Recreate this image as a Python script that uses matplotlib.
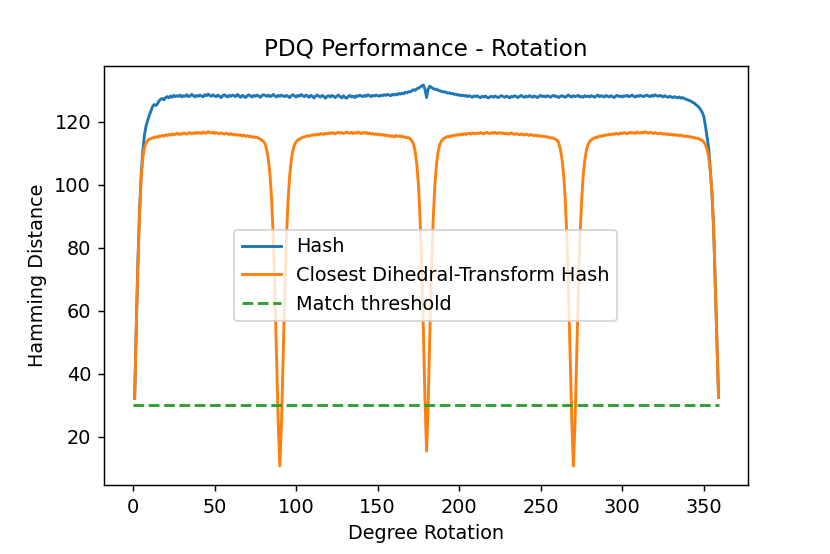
import matplotlib
matplotlib.use("Agg")
import matplotlib.pyplot as plt
import numpy as np

plt.rcParams["font.size"] = 10.7
plt.rcParams["lines.linewidth"] = 1.6

degrees = list(range(1, 360))

hash_dist = [
    32.2, 55.0, 75.5, 91.5, 103.0, 110.5, 115.8, 118.6, 120.4, 122.0,
    123.4, 124.8, 125.4, 125.1, 125.6, 126.6, 127.1, 127.3, 126.9, 127.6,
    127.9, 127.5, 128.1, 127.7, 128.3, 127.9, 128.2, 128.0, 128.4, 127.8,
    128.2, 128.0, 128.5, 127.9, 128.1, 128.6, 128.2, 127.8, 128.3, 128.0,
    128.4, 128.1, 127.9, 128.5, 128.2, 128.7, 128.3, 128.0, 128.5, 128.1,
    127.9, 128.4, 128.0, 127.6, 128.2, 128.5, 128.1, 127.8, 128.3, 128.0,
    128.4, 128.2, 127.9, 128.6, 128.1, 127.7, 128.3, 128.0, 127.6, 128.2,
    128.5, 128.1, 127.8, 128.3, 128.0, 128.4, 128.1, 127.7, 128.2, 128.5,
    128.3, 128.0, 128.4, 127.9, 128.2, 128.6, 128.1, 127.8, 128.3, 128.0,
    128.4, 128.1, 127.9, 128.3, 128.0, 127.6, 128.2, 128.5, 128.1, 127.8,
    128.3, 128.0, 128.6, 128.2, 127.9, 128.4, 128.1, 127.7, 128.3, 128.0,
    127.5, 128.1, 128.4, 128.0, 127.8, 128.3, 127.9, 127.4, 128.0, 128.2,
    127.8, 128.3, 128.0, 127.6, 128.1, 128.4, 127.9, 127.5, 128.2, 127.7,
    127.4, 128.0, 128.3, 127.8, 128.1, 127.6, 128.2, 128.0, 128.4, 128.1,
    127.9, 128.3, 128.0, 128.5, 128.2, 127.9, 128.3, 128.1, 128.4, 128.2,
    128.0, 128.4, 128.2, 128.5, 128.3, 128.6, 128.4, 128.2, 128.6, 128.4,
    128.7, 128.5, 128.9, 128.7, 129.0, 128.8, 129.3, 129.1, 129.5, 129.4,
    129.8, 130.1, 129.9, 130.4, 130.6, 130.9, 131.3, 131.6, 130.2, 127.6,
    130.4, 131.2, 130.8, 130.5, 130.2, 130.3, 129.9, 129.8, 129.6, 129.4,
    129.5, 129.2, 129.0, 129.1, 128.8, 128.9, 128.6, 128.7, 128.4, 128.5,
    128.2, 128.4, 128.1, 128.3, 127.9, 128.2, 128.0, 127.7, 128.1, 127.9,
    128.2, 127.8, 127.6, 128.0, 127.8, 128.1, 127.7, 127.5, 127.9, 128.0,
    127.7, 128.1, 127.8, 127.6, 128.0, 128.2, 127.9, 127.7, 128.1, 127.8,
    127.5, 128.0, 127.8, 128.2, 127.9, 127.6, 128.0, 128.3, 127.9, 127.7,
    128.1, 127.8, 128.2, 128.0, 127.7, 128.1, 127.9, 127.6, 128.0, 128.3,
    127.9, 128.1, 127.8, 128.2, 128.0, 127.7, 128.1, 128.3, 127.9, 128.0,
    127.6, 128.0, 128.2, 127.9, 127.7, 128.1, 128.4, 128.0, 127.8, 128.2,
    127.9, 128.1, 128.3, 127.8, 128.0, 127.7, 128.2, 127.9, 128.1, 127.8,
    128.2, 128.0, 127.7, 128.1, 128.4, 127.9, 128.2, 128.0, 127.8, 128.3,
    128.0, 127.8, 128.2, 127.9, 127.6, 128.1, 128.3, 127.9, 128.1, 127.8,
    128.2, 128.0, 128.3, 127.9, 128.1, 128.4, 128.0, 127.8, 128.2, 128.0,
    128.3, 128.1, 127.9, 128.2, 128.4, 128.1, 127.9, 128.3, 128.0, 128.5,
    128.2, 128.0, 128.3, 128.1, 127.8, 128.2, 127.9, 127.7, 128.0, 127.8,
    127.6, 127.9, 127.7, 127.5, 127.8, 127.4, 127.6, 127.3, 127.1, 126.9,
    126.7, 126.5, 126.1, 125.9, 125.4, 125.0, 124.5, 123.8, 122.9, 121.5,
    118.5, 115.0, 111.4, 104.0, 97.0, 86.0, 68.0, 50.0, 32.6,
]

dihedral_dist = [
    32.2, 55.0, 75.0, 91.0, 102.0, 108.5, 111.8, 113.2, 114.0, 114.4,
    114.6, 114.9, 114.8, 115.2, 115.0, 115.4, 115.3, 115.6, 115.4, 115.8,
    115.6, 115.9, 115.7, 116.1, 115.8, 116.0, 116.3, 115.9, 116.1, 116.0,
    116.4, 116.2, 116.0, 116.3, 116.5, 116.1, 116.4, 116.2, 116.6, 116.3,
    116.5, 116.2, 116.7, 116.4, 116.3, 116.8, 116.5, 116.4, 116.6, 116.2,
    116.5, 116.3, 116.1, 116.4, 116.2, 116.0, 116.3, 116.1, 115.9, 116.2,
    115.8, 116.0, 115.7, 115.9, 115.6, 115.8, 115.4, 115.7, 115.3, 115.5,
    115.2, 115.4, 115.0, 115.2, 114.9, 115.0, 114.7, 114.5, 114.0, 113.7,
    112.9, 111.0, 108.0, 103.0, 95.0, 83.0, 66.0, 46.0, 25.0, 10.8,
    24.0, 45.0, 65.0, 82.0, 94.5, 102.5, 107.8, 110.8, 112.6, 113.6,
    114.1, 114.5, 114.7, 115.0, 115.1, 115.3, 115.5, 115.4, 115.7, 115.6,
    115.9, 115.7, 116.0, 115.8, 116.2, 116.0, 115.9, 116.3, 116.1, 116.4,
    116.2, 116.5, 116.3, 116.1, 116.4, 116.6, 116.3, 116.5, 116.2, 116.4,
    116.7, 116.4, 116.3, 116.6, 116.2, 116.5, 116.3, 116.7, 116.4, 116.2,
    116.5, 116.3, 116.6, 116.1, 116.4, 116.0, 116.2, 115.9, 116.1, 115.8,
    116.0, 115.7, 115.9, 115.6, 115.8, 115.4, 115.6, 115.3, 115.5, 115.1,
    115.6, 115.3, 115.5, 115.2, 115.4, 115.0, 115.1, 114.8, 114.9, 114.5,
    113.9, 112.8, 110.5, 106.5, 100.0, 89.0, 74.0, 54.0, 32.0, 15.5,
    31.0, 53.0, 73.0, 88.5, 99.5, 106.0, 110.2, 112.6, 113.8, 114.4,
    114.8, 115.0, 115.3, 115.1, 115.5, 115.4, 115.7, 115.6, 115.9, 115.7,
    116.0, 115.8, 116.2, 115.9, 116.1, 116.3, 116.0, 116.4, 116.2, 116.1,
    116.4, 116.2, 116.5, 116.3, 116.1, 116.4, 116.6, 116.3, 116.2, 116.5,
    116.3, 116.6, 116.2, 116.4, 116.5, 116.2, 116.4, 116.1, 116.3, 116.0,
    116.2, 116.4, 116.1, 115.9, 116.2, 116.0, 115.8, 116.1, 115.9, 115.7,
    116.0, 115.8, 115.6, 115.9, 115.7, 115.5, 115.7, 115.4, 115.6, 115.3,
    115.4, 115.2, 115.3, 115.0, 115.1, 114.8, 114.9, 114.6, 114.4, 114.1,
    113.2, 111.2, 108.2, 103.2, 95.5, 83.5, 66.5, 46.5, 25.5, 10.8,
    24.5, 45.5, 65.5, 82.5, 94.5, 102.8, 107.8, 110.9, 112.7, 113.7,
    114.2, 114.6, 114.8, 115.1, 115.0, 115.4, 115.3, 115.6, 115.5, 115.8,
    115.7, 116.0, 115.8, 116.1, 115.9, 116.3, 116.1, 116.0, 116.4, 116.2,
    116.5, 116.3, 116.1, 116.4, 116.6, 116.3, 116.5, 116.2, 116.7, 116.4,
    116.3, 116.6, 116.4, 116.8, 116.5, 116.3, 116.6, 116.4, 116.2, 116.5,
    116.3, 116.1, 116.4, 116.2, 116.0, 116.2, 115.9, 116.1, 115.8, 116.0,
    115.7, 115.9, 115.6, 115.8, 115.5, 115.7, 115.4, 115.5, 115.2, 115.4,
    115.1, 115.2, 114.9, 115.0, 114.7, 114.8, 114.5, 114.3, 114.0, 113.5,
    112.6, 111.2, 108.6, 104.0, 97.0, 86.0, 68.0, 50.0, 32.6,
]

threshold_x = [0, 359]
threshold_y = [30, 30]

fig = plt.figure(figsize=(830 / 130, 554 / 130), dpi=130)
ax = fig.add_axes([0.125, 0.1245, 0.776, 0.7565])

ax.plot(degrees, hash_dist, color="#1f77b4", label="Hash")
ax.plot(degrees, dihedral_dist, color="#ff7f0e", label="Closest Dihedral-Transform Hash")
ax.plot(threshold_x, threshold_y, color="#2ca02c", linestyle="--", label="Match threshold")

ax.set_title("PDQ Performance - Rotation")
ax.set_xlabel("Degree Rotation")
ax.set_ylabel("Hamming Distance")
ax.legend(loc="center")

fig.savefig("out.png", dpi=130)
